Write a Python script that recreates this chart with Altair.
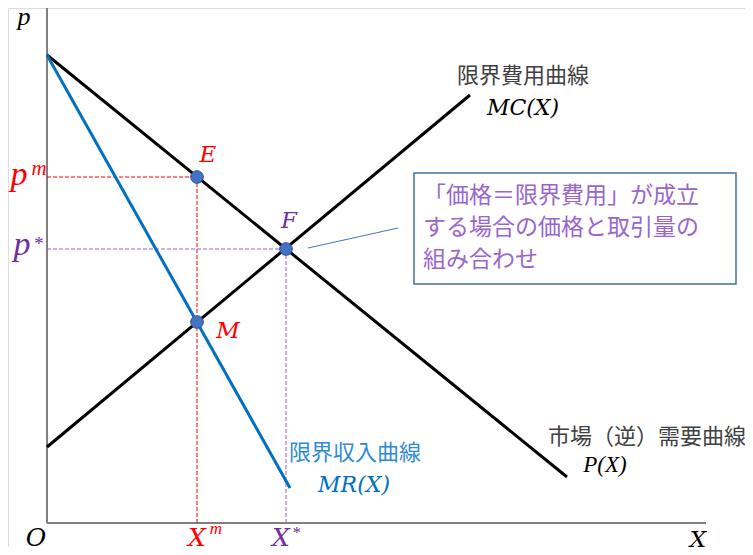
import altair as alt
import pandas as pd

# ---- economic curves (units: X quantity, p price) ----
demand_x = [0.0, 52.0]
demand_p = [46.8, 4.6]
mc_x = [0.0, 42.3]
mc_p = [7.6, 42.8]
mr_x = [0.0, 24.3]
mr_p = [46.8, 3.5]

# equilibrium points
pt_names = ["E", "F", "M"]
pt_x = [15.0, 23.9, 15.0]
pt_p = [34.6, 27.4, 20.1]

X_m, X_star = 15.0, 23.9
p_m, p_star = 34.6, 27.4
X_max, p_max = 65.9, 51.5

box_lines = ["「価格＝限界費用」が成立", "する場合の価格と取引量の", "組み合わせ"]

# ---- helpers: page pixel -> data units ----
def ux(px):
    return (px - 47) / 10.0

def uy(py):
    return (523 - py) / 10.0

xs = alt.Scale(domain=[-3.9, 69.8], nice=False, zero=False)
ys = alt.Scale(domain=[-2.4, 51.5], nice=False, zero=False)
X = lambda f="x": alt.X(f"{f}:Q", scale=xs, axis=None)
Y = lambda f="y": alt.Y(f"{f}:Q", scale=ys, axis=None)

def seg_layer(rows, **kw):
    df = pd.DataFrame(rows, columns=["x", "y", "x2", "y2"])
    return alt.Chart(df).mark_rule(**kw).encode(
        x=X(), y=Y(), x2="x2:Q", y2="y2:Q")

def line_layer(xv, yv, **kw):
    df = pd.DataFrame({"x": xv, "y": yv})
    return alt.Chart(df).mark_line(**kw).encode(x=X(), y=Y())

def text_layer(rows, **kw):
    df = pd.DataFrame(rows, columns=["x", "y", "t"])
    return alt.Chart(df).mark_text(**kw).encode(x=X(), y=Y(), text="t:N")

GRAY = "#808080"
RED = "#FF0000"
PURPLE = "#7030A0"
BLUE = "#0070C0"
LABEL = "#404040"
SERIF = "Liberation Serif"
MATH = "DejaVu Serif"
CJK = "Noto Sans CJK JP"

def math(rows, size, color, font=MATH, **kw):
    return text_layer(rows, font=font, fontStyle="italic", fontSize=size, color=color,
                      align="center", baseline="alphabetic", **kw)

layers = []
# axes
layers.append(seg_layer([[0, 0, X_max, 0], [0, 0, 0, p_max]],
                        color=GRAY, strokeWidth=2))
# dashed guides
layers.append(seg_layer([[0, p_m, X_m, p_m], [X_m, p_m, X_m, 0]],
                        color=RED, strokeWidth=1, strokeDash=[4, 2]))
layers.append(seg_layer([[0, p_star, X_star, p_star], [X_star, p_star, X_star, 0]],
                        color="#9E5FD6", strokeWidth=1, strokeDash=[4, 2]))
# curves
layers.append(line_layer(demand_x, demand_p, color="black", strokeWidth=3))
layers.append(line_layer(mc_x, mc_p, color="black", strokeWidth=3))
layers.append(line_layer(mr_x, mr_p, color=BLUE, strokeWidth=3))
# connector + box
layers.append(seg_layer([[ux(308), uy(248), ux(398), uy(228)]],
                        color="#4472C4", strokeWidth=1))
box_df = pd.DataFrame({"x": [ux(414)], "y": [uy(173)], "x2": [ux(736)], "y2": [uy(284)]})
layers.append(alt.Chart(box_df).mark_rect(fill="white", stroke="#41719C", strokeWidth=1.5)
              .encode(x=X(), y=Y(), x2="x2:Q", y2="y2:Q"))
box_rows = [[ux(423), uy(196 + 32 * i), t] for i, t in enumerate(box_lines)]
layers.append(text_layer(box_rows, font=CJK, fontSize=23, color="#9966CC",
                         align="left", baseline="middle"))
# points
pts_df = pd.DataFrame({"x": pt_x, "y": pt_p, "n": pt_names})
layers.append(alt.Chart(pts_df).mark_point(filled=True, size=160, fill="#4472C4",
                                           stroke="#2F528F", strokeWidth=1, opacity=1)
              .encode(x=X(), y=Y()))

# point labels
layers.append(math([[ux(208), uy(162), "E"], [ux(228), uy(338), "M"]], 23, RED))
layers.append(math([[ux(289), uy(228), "F"]], 23, PURPLE))
# axis labels
layers.append(math([[ux(24), uy(25), "p"]], 26, "black", font=SERIF))
layers.append(math([[ux(36), uy(546), "O"]], 25, "black"))
layers.append(math([[ux(698), uy(547), "X"]], 23, "black"))
# p^m, X^m
layers.append(math([[ux(19), uy(185), "p"]], 34, RED, font=SERIF))
layers.append(math([[ux(39), uy(175), "m"]], 21, RED, font=SERIF))
layers.append(math([[ux(197), uy(546), "X"]], 25, RED))
layers.append(math([[ux(216), uy(534), "m"]], 17, RED, font=SERIF))
# p*, X*
layers.append(math([[ux(22), uy(255), "p"]], 34, PURPLE, font=SERIF))
layers.append(math([[ux(38), uy(250), "*"]], 19, PURPLE, font=SERIF))
layers.append(math([[ux(281), uy(546), "X"]], 25, PURPLE))
layers.append(math([[ux(296), uy(538), "*"]], 17, PURPLE, font=SERIF))
# curve names
layers.append(text_layer([[ux(523), uy(76), "限界費用曲線"], [ux(647), uy(437), "市場（逆）需要曲線"]],
                         font=CJK, fontSize=22, color=LABEL,
                         align="center", baseline="middle"))
layers.append(text_layer([[ux(355), uy(453), "限界収入曲線"]],
                         font=CJK, fontSize=22, color="#2E8BD6",
                         align="center", baseline="middle"))
layers.append(math([[ux(523), uy(115), "MC(X)"]], 22, "black"))
layers.append(math([[ux(354), uy(492), "MR(X)"]], 22, BLUE))
layers.append(math([[ux(605), uy(472), "P(X)"]], 23, "black", font=SERIF))

chart = alt.layer(*layers).properties(
    width=737, height=539, padding=0,
    autosize=alt.AutoSizeParams(type="none"),
).configure_view(stroke=None).configure(background="white")

chart.save("out.html", embed_options={"renderer": "svg", "actions": False})
